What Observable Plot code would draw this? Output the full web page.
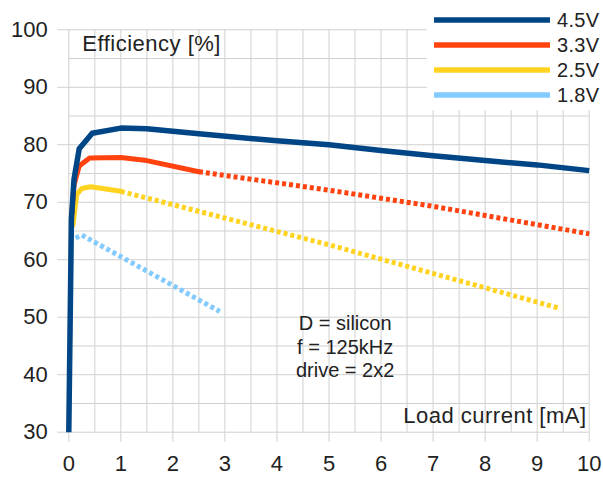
<!DOCTYPE html>
<html>
<head>
<meta charset="utf-8">
<script src="https://cdn.jsdelivr.net/npm/d3@7"></script>
<script src="https://cdn.jsdelivr.net/npm/@observablehq/plot@0.6"></script>
<style>
  html, body { margin: 0; padding: 0; background: #fff; }
  #wrap { position: relative; width: 603px; height: 477px; font-family: "Liberation Sans", Arial, sans-serif; }
  #legend { position: absolute; left: 427px; top: 0; width: 176px; height: 110px; background: #fff; }
</style>
</head>
<body>
<div id="wrap"><div id="legend"></div></div>
<script>
// ---- data ----
const seriesNames = ["4.5V", "3.3V", "2.5V", "1.8V"];
const seriesColors = ["#004586", "#ff420e", "#ffd320", "#83caff"];

const x45 = [0, 0.05, 0.1, 0.2, 0.45, 1, 1.5, 2.5, 4, 5, 6, 7, 8, 9, 10];
const y45 = [30, 67, 74, 79.3, 82, 82.9, 82.8, 81.9, 80.7, 80.0, 79.0, 78.1, 77.25, 76.5, 75.5];

const x33solid = [0.06, 0.1, 0.2, 0.4, 1, 1.5, 2.5];
const y33solid = [68, 73, 76.3, 77.7, 77.8, 77.25, 75.3];
const x33dot = [2.5, 5, 7, 10];
const y33dot = [75.3, 72.1, 69.3, 64.5];

const x25solid = [0.08, 0.15, 0.25, 0.42, 1];
const y25solid = [66, 71.3, 72.4, 72.7, 71.9];
const x25dot = [1, 5, 9.45];
const y25dot = [71.9, 62.6, 51.5];

const x18dot = [0.13, 0.25, 2.9];
const y18dot = [63.8, 64.3, 51];

const xTicks = [0, 1, 2, 3, 4, 5, 6, 7, 8, 9, 10];
const yTicks = [30, 40, 50, 60, 70, 80, 90, 100];
const xGrid = d3.range(0, 10.01, 0.5);
const yGrid = d3.range(30, 100.01, 5);

const yTitle = "Efficiency [%]";
const xTitle = "Load current [mA]";
const note = "D = silicon\nf = 125kHz\ndrive = 2x2";

// ---- build tables ----
const pts = (xs, ys) => xs.map((x, i) => ({x, y: ys[i]}));

const gridColor = "#d0d0d0";
const textColor = "#222";
const dash = "4,3";

const chart = Plot.plot({
  width: 603,
  height: 477,
  marginLeft: 68.3,
  marginRight: 14.3,
  marginTop: 29.3,
  marginBottom: 45.3,
  x: {domain: [0, 10]},
  y: {domain: [30, 100]},
  style: {fontFamily: "'Liberation Sans', Arial, sans-serif", color: textColor, background: "#fff"},
  marks: [
    Plot.gridX(xGrid, {stroke: gridColor, strokeOpacity: 1}),
    Plot.gridY(yGrid, {stroke: gridColor, strokeOpacity: 1}),
    Plot.axisX(xTicks, {tickSize: 10, tickFormat: () => "", stroke: gridColor, label: null}),
    Plot.axisY(yTicks, {tickSize: 11, tickFormat: () => "", stroke: gridColor, label: null}),
    Plot.axisX(xTicks, {tickSize: 0, tickPadding: 23, fontSize: 22, label: null}),
    Plot.axisY(yTicks, {tickSize: 0, tickPadding: 21, fontSize: 22, label: null}),
    Plot.line(pts(x18dot, y18dot), {x: "x", y: "y", stroke: seriesColors[3], strokeWidth: 5, strokeDasharray: dash, strokeLinecap: "butt"}),
    Plot.line(pts(x25dot, y25dot), {x: "x", y: "y", stroke: seriesColors[2], strokeWidth: 5, strokeDasharray: dash, strokeLinecap: "butt"}),
    Plot.line(pts(x25solid, y25solid), {x: "x", y: "y", stroke: seriesColors[2], strokeWidth: 5, strokeLinejoin: "round"}),
    Plot.line(pts(x33dot, y33dot), {x: "x", y: "y", stroke: seriesColors[1], strokeWidth: 5, strokeDasharray: dash, strokeLinecap: "butt"}),
    Plot.line(pts(x33solid, y33solid), {x: "x", y: "y", stroke: seriesColors[1], strokeWidth: 5, strokeLinejoin: "round"}),
    Plot.line(pts(x45, y45), {x: "x", y: "y", stroke: seriesColors[0], strokeWidth: 5.5, strokeLinejoin: "round", strokeLinecap: "butt"}),
    Plot.text([yTitle], {x: 0.26, y: 97.6, text: d => d, textAnchor: "start", fontSize: 22, fill: textColor}),
    Plot.text([xTitle], {x: 9.95, y: 32.8, text: d => d, textAnchor: "end", fontSize: 22, fill: textColor}),
    Plot.text([note], {x: 5.31, y: 45.0, text: d => d, textAnchor: "middle", fontSize: 20, lineHeight: 1.19, fill: textColor})
  ]
});

// slight tracking on the two titles, as in the reference
d3.select(chart).selectAll("text")
  .filter(function() { return this.textContent === xTitle || this.textContent === yTitle; })
  .attr("letter-spacing", "0.5px");

const wrap = document.getElementById("wrap");
chart.style.position = "absolute";
chart.style.left = "0";
chart.style.top = "0";
wrap.insertBefore(chart, wrap.firstChild);

// ---- legend (overlay, top right) ----
const legend = d3.select("#legend").append("svg")
  .attr("width", 176).attr("height", 110)
  .style("font-family", "'Liberation Sans', Arial, sans-serif");
seriesNames.forEach((name, i) => {
  const cy = 20 + i * 25;
  legend.append("line")
    .attr("x1", 7).attr("x2", 123).attr("y1", cy).attr("y2", cy)
    .attr("stroke", seriesColors[i]).attr("stroke-width", 5.5);
  legend.append("text")
    .attr("x", 130).attr("y", cy).attr("dy", "0.35em")
    .attr("font-size", 20).attr("letter-spacing", "0.3px").attr("fill", textColor)
    .text(name);
});
</script>
</body>
</html>
